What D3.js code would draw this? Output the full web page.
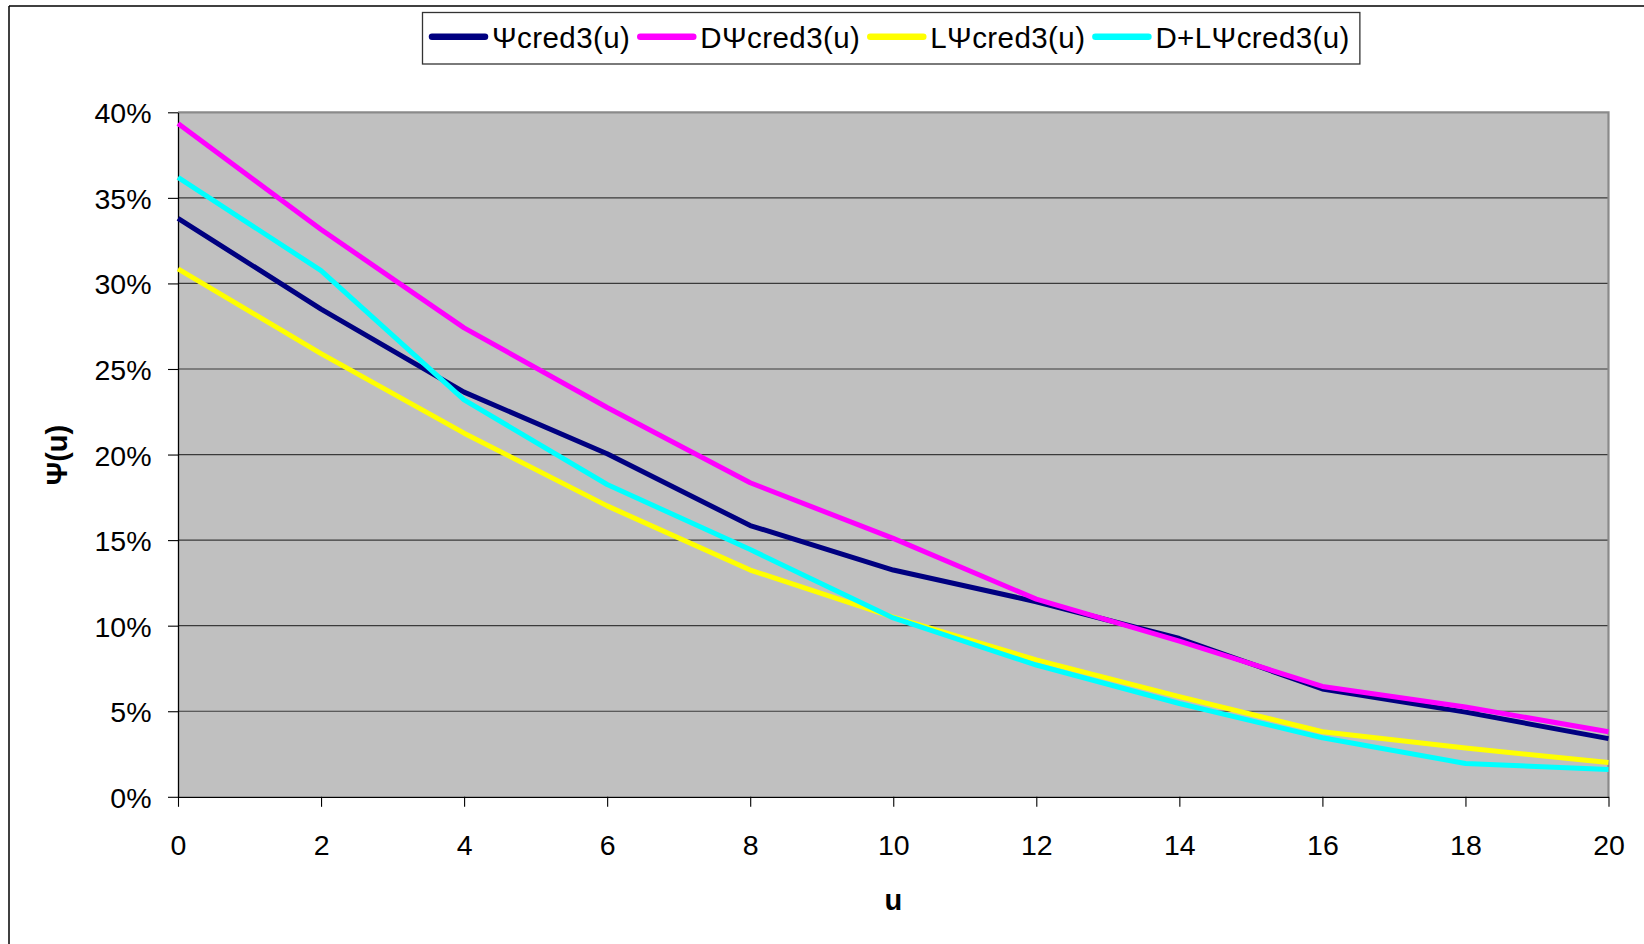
<!DOCTYPE html>
<html>
<head>
<meta charset="utf-8">
<script src="https://cdn.jsdelivr.net/npm/d3@7"></script>
<style>
  html, body { margin: 0; padding: 0; background: #fff; }
  svg { display: block; font-family: "Liberation Sans", Arial, sans-serif; }
</style>
</head>
<body>
<svg id="chart" width="1644" height="944"></svg>
<script>
// Ruin probability Ψ(u) against initial capital u, four model variants (values in %)
const uValues   = [0, 2, 4, 6, 8, 10, 12, 14, 16, 18, 20];
const psiCred3  = [33.8, 28.5, 23.65, 20.05, 15.85, 13.25, 11.4, 9.25, 6.3, 4.95, 3.4];
const dPsiCred3 = [39.35, 33.15, 27.4, 22.75, 18.35, 15.1, 11.55, 9.1, 6.45, 5.25, 3.8];
const lPsiCred3 = [30.85, 25.9, 21.25, 17.0, 13.25, 10.5, 8.0, 5.85, 3.8, 2.85, 2.0];
const dlPsiCred3 = [36.2, 30.75, 23.2, 18.25, 14.45, 10.45, 7.7, 5.45, 3.45, 1.95, 1.6];

const seriesNames  = ["Ψcred3(u)", "DΨcred3(u)", "LΨcred3(u)", "D+LΨcred3(u)"];
const seriesValues = [psiCred3, dPsiCred3, lPsiCred3, dlPsiCred3];
const seriesColors = ["#000080", "#FF00FF", "#FFFF00", "#00FFFF"];

const yTicks = [0, 5, 10, 15, 20, 25, 30, 35, 40];
const xTicks = [0, 2, 4, 6, 8, 10, 12, 14, 16, 18, 20];

const svg = d3.select("#chart");
const plot = { left: 178, right: 1608.5, top: 112.3, bottom: 796.8 };

const x = d3.scaleLinear().domain([0, 20]).range([plot.left, plot.right]);
const y = d3.scaleLinear().domain([0, 40]).range([plot.bottom, plot.top]);

// chart area frame (top and left edges)
svg.append("line").attr("x1", 9).attr("x2", 1644).attr("y1", 6).attr("y2", 6)
  .attr("stroke", "#000").attr("stroke-width", 1.5);
svg.append("line").attr("x1", 9).attr("x2", 9).attr("y1", 6).attr("y2", 944)
  .attr("stroke", "#000").attr("stroke-width", 1.5);

// plot background
svg.append("rect")
  .attr("x", plot.left).attr("y", plot.top)
  .attr("width", plot.right - plot.left).attr("height", plot.bottom - plot.top)
  .attr("fill", "#C0C0C0");

// horizontal gridlines
svg.append("g").selectAll("line")
  .data(yTicks.filter(d => d > 0 && d < 40))
  .join("line")
  .attr("x1", plot.left).attr("x2", plot.right)
  .attr("y1", d => y(d)).attr("y2", d => y(d))
  .attr("stroke", "#3a3a3a").attr("stroke-width", 1.2);

// plot border top/right
svg.append("path")
  .attr("d", `M${plot.left},${plot.top}H${plot.right}V${plot.bottom}`)
  .attr("fill", "none").attr("stroke", "#8a8a8a").attr("stroke-width", 2.2);

// y axis
const yAxis = d3.axisLeft(y).tickValues(yTicks).tickSize(10).tickSizeOuter(0)
  .tickFormat(d => d + "%");
const gy = svg.append("g").attr("transform", `translate(${plot.left},0)`).call(yAxis);
gy.select(".domain").attr("stroke", "#000").attr("stroke-width", 1.3);
gy.selectAll(".tick line").attr("stroke", "#000").attr("stroke-width", 1.1);
gy.selectAll(".tick text")
  .attr("x", -26.5).attr("dy", "0.37em")
  .attr("font-size", 28.5).attr("fill", "#000")
  .attr("font-family", "'Liberation Sans', Arial, sans-serif");

// x axis
const xAxis = d3.axisBottom(x).tickValues(xTicks).tickSize(10).tickSizeOuter(0);
const gx = svg.append("g").attr("transform", `translate(0,${plot.bottom})`).call(xAxis);
gx.select(".domain").attr("stroke", "#000").attr("stroke-width", 1.3);
gx.selectAll(".tick line").attr("stroke", "#000").attr("stroke-width", 1.1);
gx.selectAll(".tick text")
  .attr("y", 58.5).attr("dy", 0)
  .attr("font-size", 28.5).attr("fill", "#000")
  .attr("font-family", "'Liberation Sans', Arial, sans-serif");

// axis titles
svg.append("text")
  .attr("x", (plot.left + plot.right) / 2).attr("y", 910)
  .attr("text-anchor", "middle").attr("font-size", 29).attr("font-weight", "bold")
  .text("u");
svg.append("text")
  .attr("transform", "translate(67,455) rotate(-90)")
  .attr("text-anchor", "middle").attr("font-size", 29).attr("font-weight", "bold")
  .text("Ψ(u)");

// series lines
const line = d3.line().x((d, i) => x(uValues[i])).y(d => y(d));
svg.append("g").selectAll("path")
  .data(seriesValues)
  .join("path")
  .attr("d", d => line(d))
  .attr("fill", "none")
  .attr("stroke", (d, i) => seriesColors[i])
  .attr("stroke-width", 5)
  .attr("stroke-linejoin", "round");

// legend
const legend = svg.append("g");
const legendBox = legend.append("rect")
  .attr("x", 422.5).attr("y", 12.5).attr("height", 51.5)
  .attr("fill", "#fff").attr("stroke", "#333").attr("stroke-width", 1.3);
let lx = 432;
seriesNames.forEach((name, i) => {
  legend.append("line")
    .attr("x1", lx).attr("x2", lx + 53).attr("y1", 36.7).attr("y2", 36.7)
    .attr("stroke", seriesColors[i]).attr("stroke-width", 6.5).attr("stroke-linecap", "round");
  const t = legend.append("text")
    .attr("x", lx + 60).attr("y", 47.5)
    .attr("font-size", 29.5).attr("letter-spacing", "0.42px").attr("fill", "#000")
    .text(name);
  const w = t.node().getComputedTextLength();
  lx = lx + 60 + w + 10;
});
legendBox.attr("width", lx - 422.5);
</script>
</body>
</html>
